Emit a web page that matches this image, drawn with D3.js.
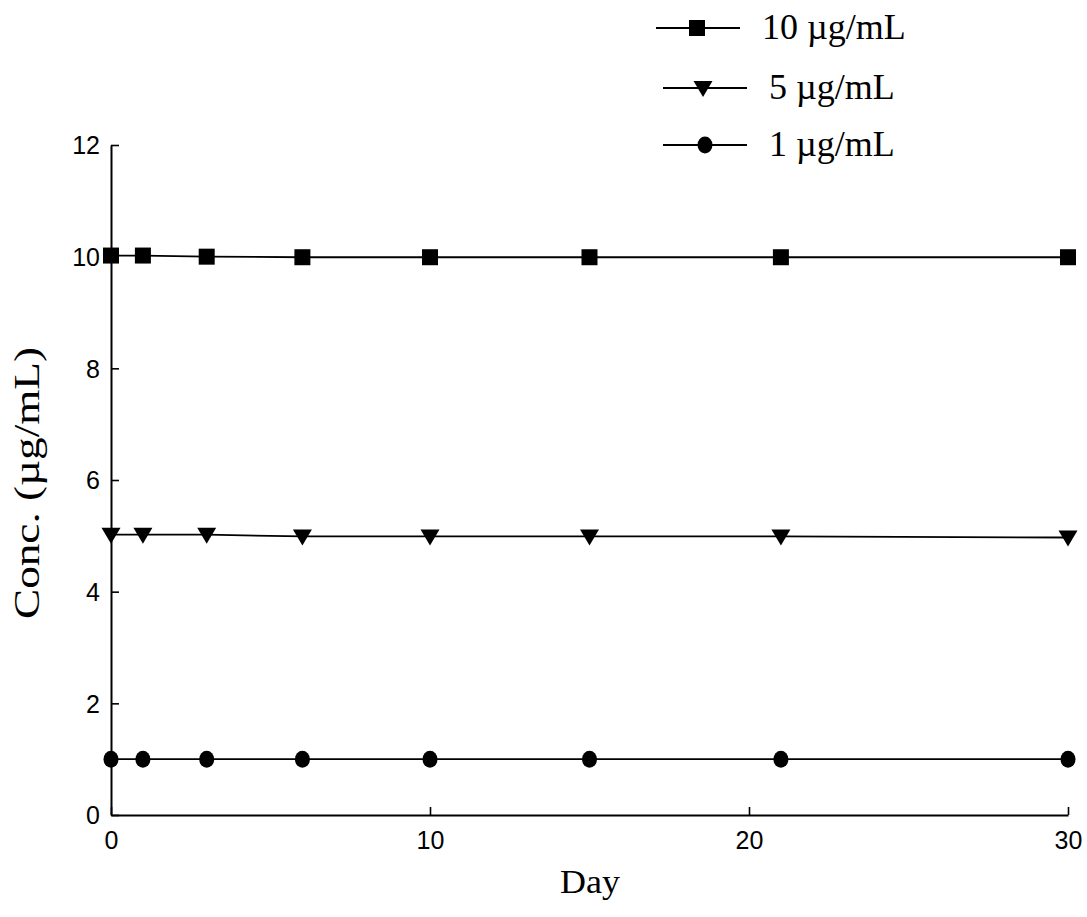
<!DOCTYPE html>
<html>
<head>
<meta charset="utf-8">
<script src="https://cdn.jsdelivr.net/npm/d3@7"></script>
<style>
  html, body { margin: 0; padding: 0; background: #fff; }
  svg { display: block; }
</style>
</head>
<body>
<svg id="chart" width="1087" height="917"></svg>
<script>
const days = [0, 1, 3, 6, 10, 15, 21, 30];
const conc10 = [10.02, 10.02, 10.0, 9.99, 9.99, 9.99, 9.99, 9.99];
const conc5 = [5.02, 5.02, 5.02, 4.99, 4.99, 4.99, 4.99, 4.97];
const conc1 = [1.0, 1.0, 1.0, 1.0, 1.0, 1.0, 1.0, 1.0];
const seriesNames = ["10 \u00b5g/mL", "5 \u00b5g/mL", "1 \u00b5g/mL"];
const xTicks = [0, 10, 20, 30];
const yTicks = [0, 2, 4, 6, 8, 10, 12];

const series = [
  { name: seriesNames[0], values: conc10, marker: "square" },
  { name: seriesNames[1], values: conc5, marker: "triangle" },
  { name: seriesNames[2], values: conc1, marker: "circle" }
];

const svg = d3.select("#chart");
const x = d3.scaleLinear().domain([0, 30]).range([111, 1068]);
const y = d3.scaleLinear().domain([0, 12]).range([815, 145]);

function drawMarker(g, type, cx, cy) {
  if (type === "square") {
    g.append("rect").attr("x", cx - 8).attr("y", cy - 8)
      .attr("width", 16).attr("height", 16).attr("fill", "#000");
  } else if (type === "triangle") {
    g.append("path")
      .attr("d", `M${cx - 9.5},${cy - 7} L${cx + 9.5},${cy - 7} L${cx},${cy + 9} Z`)
      .attr("fill", "#000");
  } else {
    g.append("ellipse").attr("cx", cx).attr("cy", cy)
      .attr("rx", 7.5).attr("ry", 8.5).attr("fill", "#000");
  }
}

// Axes
const xAxis = d3.axisBottom(x).tickValues(xTicks).tickSizeInner(-8).tickSizeOuter(0).tickPadding(16);
const yAxis = d3.axisLeft(y).tickValues(yTicks).tickSizeInner(-8).tickSizeOuter(0).tickPadding(11);

const gx = svg.append("g").attr("transform", `translate(0,${y(0)})`).call(xAxis);
const gy = svg.append("g").attr("transform", `translate(${x(0)},0)`).call(yAxis);

[gx, gy].forEach(g => {
  g.attr("font-size", null).attr("font-family", null);
  g.select(".domain").attr("stroke", "#000").attr("stroke-width", 2);
  g.selectAll(".tick line").attr("stroke", "#000").attr("stroke-width", 1.6);
  g.selectAll(".tick text").attr("fill", "#000")
    .attr("font-family", "'Liberation Sans', Arial, sans-serif")
    .attr("font-size", 25);
});
gx.selectAll(".tick text").attr("dy", "0.71em");
gy.selectAll(".tick text").attr("dy", "0.35em");

// Lines and markers
const line = d3.line().x((d, i) => x(days[i])).y(d => y(d));
series.forEach(s => {
  svg.append("path").datum(s.values).attr("d", line)
    .attr("fill", "none").attr("stroke", "#000").attr("stroke-width", 1.8);
  const g = svg.append("g");
  s.values.forEach((v, i) => drawMarker(g, s.marker, x(days[i]), y(v)));
});

// Axis titles
svg.append("text")
  .attr("x", 590).attr("y", 893)
  .attr("text-anchor", "middle")
  .attr("font-family", "'Liberation Serif', 'Times New Roman', serif")
  .attr("font-size", 34)
  .attr("textLength", 60).attr("lengthAdjust", "spacingAndGlyphs")
  .text("Day");

svg.append("text")
  .attr("transform", "translate(39,483) rotate(-90)")
  .attr("text-anchor", "middle")
  .attr("font-family", "'Liberation Serif', 'Times New Roman', serif")
  .attr("font-size", 35)
  .attr("textLength", 272).attr("lengthAdjust", "spacingAndGlyphs")
  .text("Conc. (\u00b5g/mL)");

// Legend
const legendRows = [
  { y: 28, x1: 656, x2: 740, mx: 697, tx: 762 },
  { y: 88, x1: 663, x2: 747, mx: 703, tx: 769 },
  { y: 145, x1: 663, x2: 747, mx: 705, tx: 769 }
];
series.forEach((s, i) => {
  const r = legendRows[i];
  const g = svg.append("g");
  g.append("line").attr("x1", r.x1).attr("x2", r.x2).attr("y1", r.y).attr("y2", r.y)
    .attr("stroke", "#000").attr("stroke-width", 1.8);
  drawMarker(g, s.marker, r.mx, r.y);
  g.append("text").attr("x", r.tx).attr("y", r.y + 11)
    .attr("font-family", "'Liberation Serif', 'Times New Roman', serif")
    .attr("font-size", 36)
    .text(s.name);
});
</script>
</body>
</html>
